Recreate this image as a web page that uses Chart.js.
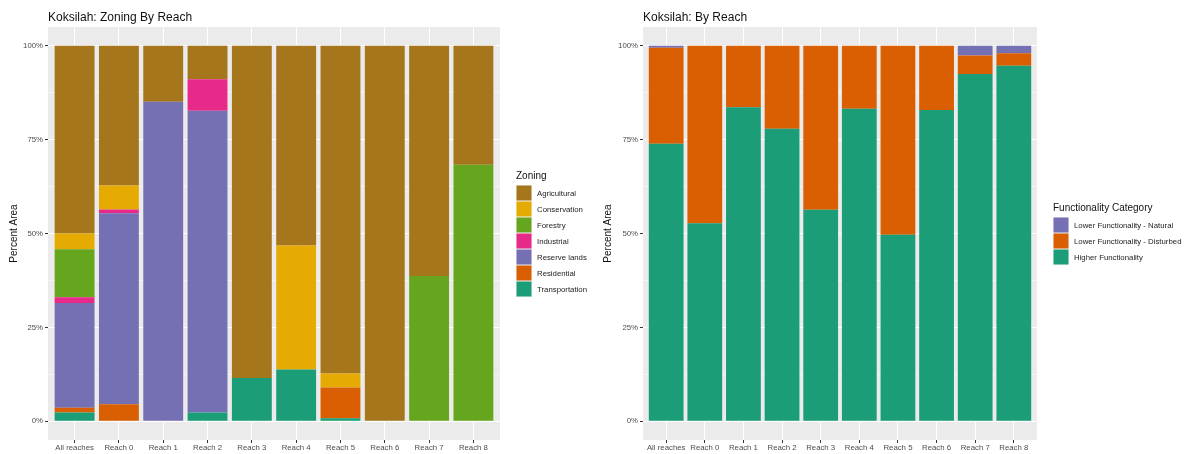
<!DOCTYPE html>
<html>
<head>
<meta charset="utf-8">
<title>Koksilah</title>
<script src="https://cdn.jsdelivr.net/npm/chart.js@4/dist/chart.umd.min.js"></script>
<style>
  html, body { margin: 0; padding: 0; background: #ffffff; }
  #wrap { position: relative; width: 1188px; height: 454px; overflow: hidden; }
  canvas { position: absolute; top: 0; }
  #zoning { left: 0; }
  #func { left: 594px; }
</style>
</head>
<body>
<div id="wrap">
  <canvas id="zoning" width="594" height="454"></canvas>
  <canvas id="func" width="594" height="454"></canvas>
</div>
<script>
// ---- data ----
const categories = ['All reaches', 'Reach 0', 'Reach 1', 'Reach 2', 'Reach 3',
                    'Reach 4', 'Reach 5', 'Reach 6', 'Reach 7', 'Reach 8'];

// Zoning share of area (%), per reach
const transportation = [2.3, 0, 0, 2.3, 11.5, 13.8, 0.8, 0, 0, 0];
const residential    = [1.3, 4.5, 0, 0, 0, 0, 8.2, 0, 0, 0];
const reserveLands   = [27.9, 50.9, 85.1, 80.4, 0, 0, 0, 0, 0, 0];
const industrial     = [1.5, 1.0, 0, 8.4, 0, 0, 0, 0, 0, 0];
const forestry       = [12.8, 0, 0, 0, 0, 0, 0, 0, 38.7, 68.3];
const conservation   = [4.2, 6.4, 0, 0, 0, 33.0, 3.7, 0, 0, 0];
const agricultural   = [50.0, 37.2, 14.9, 8.9, 88.5, 53.2, 87.3, 100, 61.3, 31.7];

// Functionality share of area (%), per reach
const higherFunctionality = [73.9, 52.7, 83.6, 77.9, 56.3, 83.2, 49.7, 82.9, 92.5, 94.7];
const lowerDisturbed      = [25.6, 47.3, 16.4, 22.1, 43.7, 16.8, 50.3, 17.1, 4.9, 3.3];
const lowerNatural        = [0.5, 0, 0, 0, 0, 0, 0, 0, 2.6, 2.0];

// y axis breaks
const majorBreaks = [0, 25, 50, 75, 100];
const minorBreaks = [12.5, 37.5, 62.5, 87.5];

// ---- styling helpers ----
const FONT = '"Liberation Sans", Arial, Helvetica, sans-serif';
Chart.defaults.font.family = FONT;

// grey panel behind the bars
const panelBg = {
  id: 'panelBg',
  beforeDraw(chart) {
    const { ctx, chartArea: a } = chart;
    ctx.save();
    ctx.fillStyle = '#EBEBEB';
    ctx.fillRect(a.left, a.top, a.right - a.left, a.bottom - a.top);
    ctx.restore();
  }
};

// left-aligned plot title above the panel
const plotTitle = {
  id: 'plotTitle',
  afterDraw(chart, args, opts) {
    const ctx = chart.ctx;
    ctx.save();
    ctx.font = '12px ' + FONT;
    ctx.fillStyle = '#111111';
    ctx.textBaseline = 'alphabetic';
    ctx.fillText(opts.text, chart.chartArea.left, opts.baseline);
    ctx.restore();
  }
};

// legend with square keys, listed top of stack first
const keyLegend = {
  id: 'keyLegend',
  afterDraw(chart, args, opts) {
    const ctx = chart.ctx;
    const items = chart.data.datasets.slice().reverse();
    ctx.save();
    ctx.textBaseline = 'middle';
    ctx.font = '10px ' + FONT;
    ctx.fillStyle = '#111111';
    ctx.fillText(opts.title, opts.x, opts.titleY);
    ctx.font = '7.8px ' + FONT;
    items.forEach((ds, i) => {
      const y = opts.keyTop + i * 16;
      ctx.fillStyle = '#F2F2F2';
      ctx.fillRect(opts.x, y, 16, 16);
      ctx.fillStyle = ds.backgroundColor;
      ctx.fillRect(opts.x + 0.5, y + 0.5, 15, 15);
      ctx.fillStyle = '#222222';
      ctx.fillText(ds.label, opts.x + 21, y + 8.5);
    });
    ctx.restore();
  }
};

function stackedChart(id, cfg) {
  const W = 594;
  return new Chart(document.getElementById(id), {
    type: 'bar',
    data: {
      datasets: cfg.series.map(s => ({
        label: s.label,
        backgroundColor: s.color,
        borderWidth: 0,
        barPercentage: 0.9,
        categoryPercentage: 1,
        data: s.values.map((v, i) => ({ x: i, y: v }))
      }))
    },
    options: {
      responsive: false,
      animation: false,
      devicePixelRatio: 1,
      layout: { padding: { left: 0, top: 27, right: W - cfg.right, bottom: 0 } },
      plugins: {
        legend: { display: false },
        tooltip: { enabled: false },
        plotTitle: { text: cfg.title, baseline: 21 },
        keyLegend: cfg.legend
      },
      scales: {
        x: {
          type: 'linear',
          stacked: true,
          offset: false,
          min: -0.6,
          max: 9.6,
          afterBuildTicks: s => { s.ticks = categories.map((_, i) => ({ value: i })); },
          afterFit: s => { s.height = 14; },
          ticks: {
            callback: v => categories[v],
            color: '#4D4D4D',
            font: { size: 7.8 },
            padding: 0,
            maxRotation: 0,
            autoSkip: false
          },
          grid: { offset: false, color: '#FFFFFF', lineWidth: 1, tickColor: '#333333', tickLength: 3, tickWidth: 1 },
          border: { display: false }
        },
        y: {
          stacked: true,
          min: -5,
          max: 105,
          afterBuildTicks: s => {
            s.ticks = majorBreaks.concat(minorBreaks).sort((a, b) => a - b).map(v => ({ value: v }));
          },
          afterFit: s => { s.width = cfg.left; },
          ticks: {
            callback: v => majorBreaks.includes(v) ? v + '%' : '',
            color: '#4D4D4D',
            font: { size: 7.8 },
            padding: 2,
            autoSkip: false
          },
          grid: {
            color: '#FFFFFF',
            lineWidth: c => (c.tick && minorBreaks.includes(c.tick.value)) ? 0.5 : 1,
            tickColor: c => (c.tick && minorBreaks.includes(c.tick.value)) ? 'rgba(0,0,0,0)' : '#333333',
            tickLength: 3,
            tickWidth: 1
          },
          border: { display: false },
          title: {
            display: true,
            text: 'Percent Area',
            color: '#111111',
            font: { size: 10 },
            padding: { top: 8, bottom: 0 }
          }
        }
      }
    },
    plugins: [panelBg, plotTitle, keyLegend]
  });
}

// Zoning by reach (stacked bottom to top)
stackedChart('zoning', {
  title: 'Koksilah: Zoning By Reach',
  left: 48,
  right: 500,
  legend: { title: 'Zoning', x: 516, titleY: 176, keyTop: 185 },
  series: [
    { label: 'Transportation', color: '#1B9E77', values: transportation },
    { label: 'Residential',    color: '#D95F02', values: residential },
    { label: 'Reserve lands',  color: '#7570B3', values: reserveLands },
    { label: 'Industrial',     color: '#E7298A', values: industrial },
    { label: 'Forestry',       color: '#66A61E', values: forestry },
    { label: 'Conservation',   color: '#E6AB02', values: conservation },
    { label: 'Agricultural',   color: '#A6761D', values: agricultural }
  ]
});

// Functionality by reach (stacked bottom to top)
stackedChart('func', {
  title: 'Koksilah: By Reach',
  left: 49,
  right: 443,
  legend: { title: 'Functionality Category', x: 459, titleY: 208, keyTop: 217 },
  series: [
    { label: 'Higher Functionality',             color: '#1B9E77', values: higherFunctionality },
    { label: 'Lower Functionality - Disturbed',  color: '#D95F02', values: lowerDisturbed },
    { label: 'Lower Functionality - Natural',    color: '#7570B3', values: lowerNatural }
  ]
});
</script>
</body>
</html>
